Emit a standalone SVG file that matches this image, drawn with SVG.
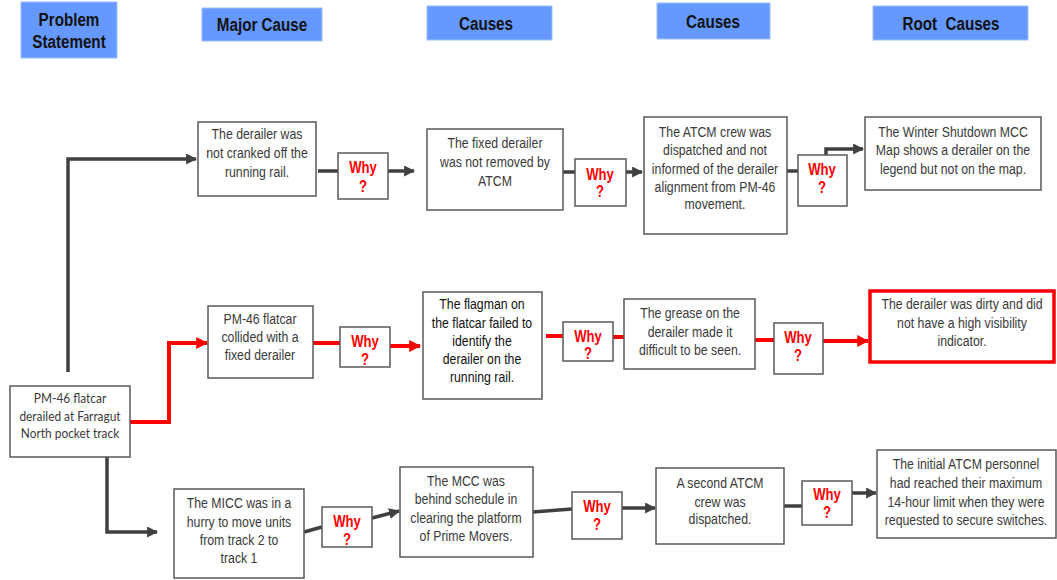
<svg xmlns="http://www.w3.org/2000/svg" width="1057" height="580" viewBox="0 0 1057 580">
<style>
.hdr{fill:#6699FF;stroke:#9dbcff;stroke-width:1}
.ht{font-family:"Liberation Sans",Arial,sans-serif;font-weight:bold;font-size:19px;fill:#111;text-anchor:middle}
.box{fill:#fff;stroke:#595959;stroke-width:1.5}
.rbox{fill:#fff;stroke:#ff0000;stroke-width:3.5}
.t{font-family:"Liberation Sans",Arial,sans-serif;font-size:15px;fill:#3a3a3a;text-anchor:middle}
.pt{font-family:Lato,"Open Sans",sans-serif;font-size:14px;fill:#3a3a3a;text-anchor:middle}
.why{font-family:"Liberation Sans",Arial,sans-serif;font-weight:bold;font-size:16px;fill:#ff0000;text-anchor:middle}
.dk{fill:none;stroke:#404040;stroke-width:3.5}
.rd{fill:none;stroke:#ff0000;stroke-width:4}
</style>
<defs>
<marker id="ad" viewBox="0 0 10 10" refX="9" refY="5" markerWidth="11" markerHeight="11" markerUnits="userSpaceOnUse" orient="auto"><path d="M0,0 L10,5 L0,10 z" fill="#404040"/></marker>
<marker id="ar" viewBox="0 0 10 10" refX="9" refY="5" markerWidth="12" markerHeight="12" markerUnits="userSpaceOnUse" orient="auto"><path d="M0,0 L10,5 L0,10 z" fill="#ff0000"/></marker>
</defs>
<rect width="1057" height="580" fill="#fff"/>

<g id="headers">
<g id="h-problem"><rect class="hdr" x="21" y="2" width="96" height="56"/><text class="ht" transform="translate(69 0) scale(0.8 1)"><tspan x="0" y="26">Problem</tspan><tspan x="0" y="48">Statement</tspan></text></g>
<g id="h-major"><rect class="hdr" x="202" y="8" width="120" height="33"/><text class="ht" transform="translate(262 0) scale(0.8 1)"><tspan x="0" y="31">Major Cause</tspan></text></g>
<g id="h-causes1"><rect class="hdr" x="427" y="6" width="125" height="34"/><text class="ht" transform="translate(486 0) scale(0.8 1)"><tspan x="0" y="30">Causes</tspan></text></g>
<g id="h-causes2"><rect class="hdr" x="657" y="3" width="113" height="36"/><text class="ht" transform="translate(713 0) scale(0.8 1)"><tspan x="0" y="28">Causes</tspan></text></g>
<g id="h-root"><rect class="hdr" x="873" y="6" width="155" height="34"/><text class="ht" transform="translate(951 0) scale(0.8 1)"><tspan x="0" y="30">Root&#160; Causes</tspan></text></g>
</g>

<g id="connectors">
<path class="dk" d="M68,372 V159 H196" marker-end="url(#ad)"/>
<path class="dk" d="M318,171 H338"/>
<path class="dk" d="M388,171 H414" marker-end="url(#ad)"/>
<path class="dk" d="M563,172 H575"/>
<path class="dk" d="M626,172 H642" marker-end="url(#ad)"/>
<path class="dk" d="M787,171 H798"/>
<path class="dk" d="M826,155 V149 H863" marker-end="url(#ad)"/>
<path class="dk" d="M107,457 V532 H157" marker-end="url(#ad)"/>
<path class="dk" d="M304,532 L322,527"/>
<path class="dk" d="M372,518 L399,511" marker-end="url(#ad)"/>
<path class="dk" d="M533,512 L572,509"/>
<path class="dk" d="M622,508 H655" marker-end="url(#ad)"/>
<path class="dk" d="M784,506 H802"/>
<path class="dk" d="M852,493 H876" marker-end="url(#ad)"/>
<path class="rd" d="M130,422 H169 V343 H207" marker-end="url(#ar)"/>
<path class="rd" d="M313,343 H340"/>
<path class="rd" d="M390,346 H420" marker-end="url(#ar)"/>
<path class="rd" d="M546,336 H563"/>
<path class="rd" d="M613,337 H624"/>
<path class="rd" d="M755,340 H774"/>
<path class="rd" d="M823,341 H868" marker-end="url(#ar)"/>
</g>

<g id="problem"><rect class="box" x="10" y="386" width="120" height="71"/><text class="pt" transform="translate(70 0) scale(0.85 1)"><tspan x="0" y="403">PM-46 flatcar</tspan><tspan x="0" y="421">derailed at Farragut</tspan><tspan x="0" y="438">North pocket track</tspan></text></g>

<g id="a1"><rect class="box" x="198" y="122" width="118" height="74"/><text class="t" transform="translate(257 0) scale(0.82 1)"><tspan x="0" y="139">The derailer was</tspan><tspan x="0" y="158">not cranked off the</tspan><tspan x="0" y="177">running rail.</tspan></text></g>
<g id="why1"><rect class="box" x="338" y="153" width="50" height="46"/><text class="why" transform="translate(363 0) scale(0.82 1)"><tspan x="0" y="173">Why</tspan><tspan x="0" y="192">?</tspan></text></g>
<g id="b1"><rect class="box" x="427" y="129" width="136" height="81"/><text class="t" transform="translate(495 0) scale(0.82 1)"><tspan x="0" y="148">The fixed derailer</tspan><tspan x="0" y="167">was not removed by</tspan><tspan x="0" y="186">ATCM</tspan></text></g>
<g id="why2"><rect class="box" x="575" y="159" width="51" height="47"/><text class="why" transform="translate(600 0) scale(0.82 1)"><tspan x="0" y="180">Why</tspan><tspan x="0" y="197">?</tspan></text></g>
<g id="c1"><rect class="box" x="644" y="117" width="143" height="117"/><text class="t" transform="translate(715 0) scale(0.82 1)"><tspan x="0" y="137">The ATCM crew was</tspan><tspan x="0" y="155">dispatched and not</tspan><tspan x="0" y="174">informed of the derailer</tspan><tspan x="0" y="192">alignment from PM-46</tspan><tspan x="0" y="209">movement.</tspan></text></g>
<g id="why3"><rect class="box" x="798" y="155" width="49" height="51"/><text class="why" transform="translate(822 0) scale(0.82 1)"><tspan x="0" y="175">Why</tspan><tspan x="0" y="193">?</tspan></text></g>
<g id="d1"><rect class="box" x="865" y="117" width="176" height="73"/><text class="t" transform="translate(953 0) scale(0.82 1)"><tspan x="0" y="137">The Winter Shutdown MCC</tspan><tspan x="0" y="155">Map shows a derailer on the</tspan><tspan x="0" y="174">legend but not on the map.</tspan></text></g>

<g id="a2"><rect class="box" x="208" y="306" width="105" height="72"/><text class="t" transform="translate(260 0) scale(0.82 1)"><tspan x="0" y="324">PM-46 flatcar</tspan><tspan x="0" y="342">collided with a</tspan><tspan x="0" y="360">fixed derailer</tspan></text></g>
<g id="why4"><rect class="box" x="340" y="327" width="50" height="40"/><text class="why" transform="translate(365 0) scale(0.82 1)"><tspan x="0" y="347">Why</tspan><tspan x="0" y="365">?</tspan></text></g>
<g id="b2"><rect class="box" x="423" y="292" width="119" height="107"/><text class="t" transform="translate(482 0) scale(0.82 1)" style="fill:#111"><tspan x="0" y="309">The flagman on</tspan><tspan x="0" y="328">the flatcar failed to</tspan><tspan x="0" y="346">identify the</tspan><tspan x="0" y="364">derailer on the</tspan><tspan x="0" y="382">running rail.</tspan></text></g>
<g id="why5"><rect class="box" x="563" y="322" width="50" height="39"/><text class="why" transform="translate(588 0) scale(0.82 1)"><tspan x="0" y="342">Why</tspan><tspan x="0" y="359">?</tspan></text></g>
<g id="c2"><rect class="box" x="624" y="299" width="131" height="70"/><text class="t" transform="translate(690 0) scale(0.82 1)"><tspan x="0" y="318">The grease on the</tspan><tspan x="0" y="337">derailer made it</tspan><tspan x="0" y="355">difficult to be seen.</tspan></text></g>
<g id="why6"><rect class="box" x="774" y="323" width="49" height="51"/><text class="why" transform="translate(798 0) scale(0.82 1)"><tspan x="0" y="343">Why</tspan><tspan x="0" y="361">?</tspan></text></g>
<g id="d2"><rect class="rbox" x="870" y="291" width="184" height="71"/><text class="t" transform="translate(962 0) scale(0.82 1)"><tspan x="0" y="309">The derailer was dirty and did</tspan><tspan x="0" y="328">not have a high visibility</tspan><tspan x="0" y="346">indicator.</tspan></text></g>

<g id="a3"><rect class="box" x="174" y="489" width="130" height="89"/><text class="t" transform="translate(239 0) scale(0.82 1)"><tspan x="0" y="508">The MICC was in a</tspan><tspan x="0" y="527">hurry to move units</tspan><tspan x="0" y="545">from track 2 to</tspan><tspan x="0" y="563">track 1</tspan></text></g>
<g id="why7"><rect class="box" x="322" y="507" width="50" height="40"/><text class="why" transform="translate(347 0) scale(0.82 1)"><tspan x="0" y="527">Why</tspan><tspan x="0" y="545">?</tspan></text></g>
<g id="b3"><rect class="box" x="400" y="467" width="133" height="90"/><text class="t" transform="translate(466 0) scale(0.82 1)"><tspan x="0" y="486">The MCC was</tspan><tspan x="0" y="504">behind schedule in</tspan><tspan x="0" y="523">clearing the platform</tspan><tspan x="0" y="541">of Prime Movers.</tspan></text></g>
<g id="why8"><rect class="box" x="572" y="492" width="50" height="47"/><text class="why" transform="translate(597 0) scale(0.82 1)"><tspan x="0" y="512">Why</tspan><tspan x="0" y="530">?</tspan></text></g>
<g id="c3"><rect class="box" x="656" y="468" width="128" height="76"/><text class="t" transform="translate(720 0) scale(0.82 1)"><tspan x="0" y="488">A second ATCM</tspan><tspan x="0" y="507">crew was</tspan><tspan x="0" y="524">dispatched.</tspan></text></g>
<g id="why9"><rect class="box" x="802" y="481" width="50" height="44"/><text class="why" transform="translate(827 0) scale(0.82 1)"><tspan x="0" y="500">Why</tspan><tspan x="0" y="518">?</tspan></text></g>
<g id="d3"><rect class="box" x="877" y="450" width="179" height="88"/><text class="t" transform="translate(966 0) scale(0.82 1)"><tspan x="0" y="469">The initial ATCM personnel</tspan><tspan x="0" y="488">had reached their maximum</tspan><tspan x="0" y="507">14-hour limit when they were</tspan><tspan x="0" y="525">requested to secure switches.</tspan></text></g>
</svg>
